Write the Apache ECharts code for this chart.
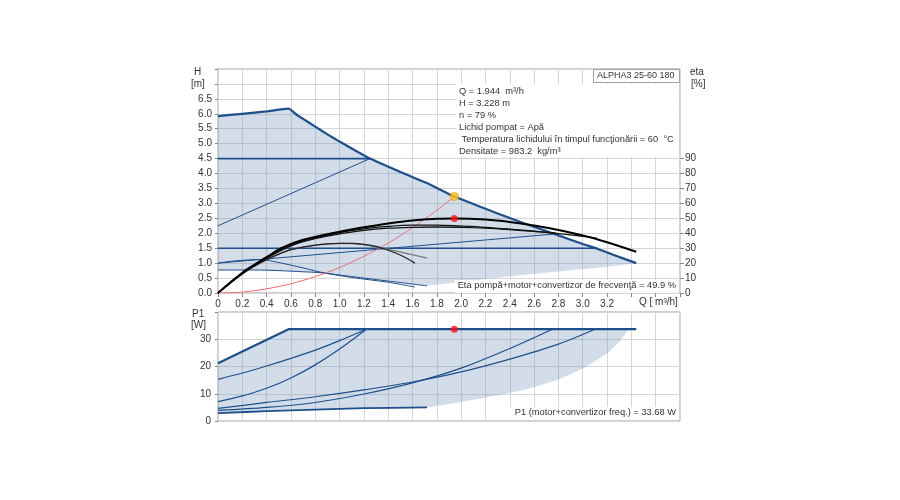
<!DOCTYPE html>
<html><head><meta charset="utf-8">
<script src="https://cdn.jsdelivr.net/npm/echarts@6/dist/echarts.min.js"></script>
<style>html,body{margin:0;padding:0;background:#fff}#c{width:900px;height:500px}</style>
</head><body><div id="c"></div>
<script>
// ---------- tick labels ----------
const qTickLabels = ['0','0.2','0.4','0.6','0.8','1.0','1.2','1.4','1.6','1.8','2.0','2.2','2.4','2.6','2.8','3.0','3.2'];
const hTickLabels = ['0.0','0.5','1.0','1.5','2.0','2.5','3.0','3.5','4.0','4.5','5.0','5.5','6.0','6.5'];
const etaTickLabels = [0,10,20,30,40,50,60,70,80,90];
const p1TickLabels = [0,10,20,30];

// ---------- H(Q) curves [Q m3/h, H m] ----------
const maxCurve = [[0,5.92],[0.2,6.0],[0.4,6.08],[0.58,6.17],[0.65,5.96],[0.7,5.83],[0.8,5.57],[0.9,5.31],[1.0,5.07],[1.1,4.84],[1.25,4.5],[1.5,4.05],[1.75,3.62],[1.944,3.228],[2.2,2.82],[2.4,2.51],[2.61,2.2],[2.8,1.93],[3.0,1.64],[3.12,1.48],[3.25,1.28],[3.44,1.0]];
const cpMax = [[0,4.5],[1.25,4.5]];
const ppMax = [[0,2.25],[1.25,4.5]];
const cpMin = [[0,1.5],[3.12,1.5]];
const ppMin = [[0,1.0],[2.78,1.98]];
const minCurveA = [[0,1.0],[0.15,1.08],[0.35,1.12],[0.5,1.02],[0.7,0.84],[0.84,0.7],[1.1,0.52],[1.4,0.36],[1.62,0.2]];
const minCurveB = [[0,0.77],[0.3,0.77],[0.5,0.75],[0.7,0.71],[0.84,0.68],[1.1,0.55],[1.4,0.4],[1.72,0.24]];
const envLowRight = [[3.44,1.0],[3.2,0.88],[2.8,0.72],[2.4,0.56],[2.0,0.38],[1.72,0.24]];
const systemCurve = [[0,0],[0.2,0.03],[0.4,0.14],[0.6,0.31],[0.8,0.55],[1.0,0.85],[1.2,1.23],[1.4,1.67],[1.6,2.19],[1.8,2.77],[1.944,3.228]];
const dutyPoint = [[1.944,3.228]];

// ---------- eta(Q) curves [Q, %] ----------
const eta1 = [[0,0],[0.1,7],[0.2,13.6],[0.32,20],[0.4,24],[0.52,30],[0.7,35.6],[1.0,41],[1.2,44],[1.4,46.6],[1.6,48.6],[1.8,49.7],[1.944,49.9],[2.2,49.2],[2.4,47.6],[2.6,45.2],[2.8,42.2],[3.0,38.6],[3.2,34],[3.44,27.6]];
const eta2 = [[0,0],[0.1,6.8],[0.2,13.2],[0.32,19.6],[0.52,29],[0.7,34.8],[1.0,40.4],[1.2,43],[1.4,44.6],[1.6,45.4],[1.8,45.4],[2.0,44.8],[2.2,44],[2.4,42.8],[2.6,41.4],[2.78,40]];
const eta3 = [[0,0],[0.1,6.6],[0.2,13],[0.32,19.4],[0.52,28.6],[0.7,34.4],[1.0,39.6],[1.2,42],[1.4,43.4],[1.6,44],[1.8,44.2],[2.0,44],[2.2,43.4],[2.4,42.4],[2.6,41.2],[2.8,39.8],[3.0,38],[3.12,36.6]];
const eta4 = [[0,0],[0.1,6.6],[0.2,12.8],[0.32,19],[0.5,26],[0.6,29],[0.8,32],[1.0,33.2],[1.1,33.2],[1.2,32.6],[1.3,31.2],[1.4,28.6],[1.5,25.4],[1.62,20]];
const eta5 = [[0,0],[0.1,6.6],[0.2,12.8],[0.32,19],[0.5,26],[0.6,29],[0.8,32],[1.0,33.2],[1.2,32.4],[1.4,29.2],[1.6,25.6],[1.72,23.4]];
const etaPoint = [[1.944,49.9]];

// ---------- P1(Q) curves [Q, W] ----------
const p1Max = [[0,21.2],[0.58,33.68],[3.44,33.68]];
const p1CurveA = [[0,15.3],[0.2,17.6],[0.4,20.2],[0.6,23.0],[0.8,26.0],[1.0,29.5],[1.22,33.68]];
const p1CurveB = [[0,7.1],[0.2,9.2],[0.4,12.0],[0.6,15.8],[0.8,20.6],[1.0,26.4],[1.22,33.68]];
const p1CurveC = [[0,3.9],[0.4,5.0],[0.8,6.8],[1.2,9.9],[1.6,14.0],[2.0,19.4],[2.4,26.6],[2.75,33.68]];
const p1CurveD = [[0,4.6],[0.4,6.8],[0.8,8.9],[1.2,11.4],[1.6,14.3],[2.0,18.0],[2.4,22.7],[2.8,28.2],[3.1,33.68]];
const p1MinLine = [[0,2.9],[0.4,3.6],[0.8,4.2],[1.2,4.7],[1.72,5.0]];
const p1EnvUpper = [[0,21.2],[0.58,33.68],[3.38,33.68]];
const p1EnvLower = [[3.38,33.68],[3.3,29],[3.2,24.8],[3.0,19.2],[2.8,15.2],[2.6,12.4],[2.4,10.3],[2.2,8.6],[2.0,7.0],[1.72,5.0],[1.2,4.7],[0.8,4.2],[0.4,3.6],[0,2.9]];
const p1Point = [[1.944,33.68]];

// ---------- texts ----------
const infoLines = ['Q = 1.944  m³/h','H = 3.228 m','n = 79 %','Lichid pompat = Apă',' Temperatura lichidului în timpul funcţionării = 60  °C','Densitate = 983.2  kg/m³'];
const pumpName = 'ALPHA3 25-60 180';
const etaText = 'Eta pompă+motor+convertizor de frecvenţă = 49.9 %';
const p1Text = 'P1 (motor+convertizor freq.) = 33.68 W';

const FONT = '"Liberation Sans", Arial, sans-serif';
const BLUE = '#1d4f8b';
const FILL = 'rgba(120,152,190,0.33)';
const GRIDC = '#d6d6d6';
const TXT = '#333';

function polySeries(upper, lower, xi, yi){
  return {type:'custom', xAxisIndex:xi, yAxisIndex:yi, data:[0], silent:true, z:1,
    renderItem:function(p, api){
      const pts = upper.concat(lower).map(d => api.coord(d));
      return {type:'polygon', shape:{points:pts}, style:{fill:FILL}};
    }};
}
function line(data, xi, yi, color, w, smooth){
  return {type:'line', data:data, xAxisIndex:xi, yAxisIndex:yi, showSymbol:false, symbol:'none',
    smooth: smooth===undefined?0.35:smooth, lineStyle:{color:color, width:w}, z:3, silent:true};
}
const xAxisBase = {type:'value', min:0, max:3.8, interval:0.2,
  axisLine:{show:false}, axisTick:{show:true, length:4, lineStyle:{color:'#888'}},
  splitLine:{show:true, lineStyle:{color:GRIDC}}};

const option = {
  animation:false,
  backgroundColor:'#fff',
  grid:[
    {left:218, top:69, width:462, height:224, show:true, borderColor:'#a0a0a0', borderWidth:1},
    {left:218, top:312, width:462, height:109, show:true, borderColor:'#a0a0a0', borderWidth:1}
  ],
  xAxis:[
    Object.assign({}, xAxisBase, {gridIndex:0, axisLabel:{color:TXT, fontSize:10, fontFamily:FONT, margin:6,
      formatter:function(v){ const i = Math.round(v/0.2); return i < qTickLabels.length ? qTickLabels[i] : ''; }}}),
    Object.assign({}, xAxisBase, {gridIndex:1, axisTick:{show:false}, axisLabel:{show:false}})
  ],
  yAxis:[
    {type:'value', gridIndex:0, min:0, max:7.5, interval:0.5, position:'left',
      axisLine:{show:false}, axisTick:{show:true, length:3, lineStyle:{color:'#888'}},
      splitLine:{show:true, lineStyle:{color:GRIDC}},
      axisLabel:{color:TXT, fontSize:10, fontFamily:FONT, margin:6,
        formatter:function(v){ const i = Math.round(v/0.5); return i < hTickLabels.length ? hTickLabels[i] : ''; }}},
    {type:'value', gridIndex:0, min:0, max:150, interval:10, position:'right',
      axisLine:{show:false}, splitLine:{show:false},
      axisTick:{show:true, length:4, lineStyle:{color:'#888'}, customValues:etaTickLabels},
      axisLabel:{color:TXT, fontSize:10, fontFamily:FONT, margin:5, customValues:etaTickLabels,
        formatter:function(v){ return etaTickLabels.indexOf(v) >= 0 ? String(v) : ''; }}},
    {type:'value', gridIndex:1, min:0, max:40, interval:10, position:'left',
      axisLine:{show:false}, axisTick:{show:true, length:3, lineStyle:{color:'#888'}},
      splitLine:{show:true, lineStyle:{color:GRIDC}},
      axisLabel:{color:TXT, fontSize:10, fontFamily:FONT, margin:7,
        formatter:function(v){ return p1TickLabels.indexOf(v) >= 0 ? String(v) : ''; }}}
  ],
  series:[
    polySeries(maxCurve, envLowRight.concat(minCurveB.slice().reverse()), 0, 0),
    line(cpMax,0,0,BLUE,1.6,false),
    line(ppMax,0,0,BLUE,1,false),
    line(cpMin,0,0,BLUE,1.6,false),
    line(ppMin,0,0,BLUE,1,false),
    line(minCurveA,0,0,BLUE,1,0.3),
    line(minCurveB,0,0,BLUE,1,0.3),
    line(maxCurve,0,0,BLUE,2.2,0.15),
    line(systemCurve,0,0,'#f06a72',1,0.3),
    line(eta5,0,1,'#777',1.2),
    line(eta4,0,1,'#222',1.2),
    line(eta3,0,1,'#111',1.3),
    line(eta2,0,1,'#111',1.3),
    line(eta1,0,1,'#000',2),
    {type:'scatter', data:dutyPoint, xAxisIndex:0, yAxisIndex:0, symbolSize:8, z:5,
      itemStyle:{color:'#ffc61a', borderColor:'#f0a000', borderWidth:1}},
    {type:'scatter', data:etaPoint, xAxisIndex:0, yAxisIndex:1, symbolSize:7, z:5,
      itemStyle:{color:'#ff1010'}},
    polySeries(p1EnvUpper, p1EnvLower, 1, 2),
    line(p1CurveA,1,2,BLUE,1.2,0.3),
    line(p1CurveB,1,2,BLUE,1.2,0.3),
    line(p1CurveC,1,2,BLUE,1.2,0.3),
    line(p1CurveD,1,2,BLUE,1.2,0.3),
    line(p1MinLine,1,2,BLUE,1.8,0.3),
    line(p1Max,1,2,BLUE,2.2,false),
    {type:'scatter', data:p1Point, xAxisIndex:1, yAxisIndex:2, symbolSize:7, z:5,
      itemStyle:{color:'#ff1010'}}
  ],
  graphic:[
    {type:'text', left:194, top:67, style:{text:'H', fill:TXT, font:'10px '+FONT}},
    {type:'text', left:191, top:79, style:{text:'[m]', fill:TXT, font:'10px '+FONT}},
    {type:'text', left:690, top:67, style:{text:'eta', fill:TXT, font:'10px '+FONT}},
    {type:'text', left:691, top:79, style:{text:'[%]', fill:TXT, font:'10px '+FONT}},
    {type:'text', left:192, top:309, style:{text:'P1', fill:TXT, font:'10px '+FONT}},
    {type:'text', left:191, top:320, style:{text:'[W]', fill:TXT, font:'10px '+FONT}},
    {type:'text', left:639, top:297, style:{text:'Q [ m³/h]', fill:TXT, font:'10px '+FONT}},
    {type:'rect', shape:{x:456, y:84, width:223, height:73}, style:{fill:'#fff'}, z:10},
    {type:'rect', shape:{x:593.5, y:69.5, width:86, height:13}, style:{fill:'#fff', stroke:'#a0a0a0', lineWidth:1}, z:11},
    {type:'text', left:597, top:71, z:12, style:{text:pumpName, fill:TXT, font:'9px '+FONT}},
    {type:'group', z:12, children: infoLines.map((t,i)=>({type:'text', x:459, y:87+i*12, z:12, style:{text:t, fill:TXT, font:'9.3px '+FONT}}))},
    {type:'rect', shape:{x:455, y:280, width:224, height:13}, style:{fill:'#fff'}, z:10},
    {type:'text', right:224, top:281, z:12, style:{text:etaText, fill:TXT, font:'9.3px '+FONT}},
    {type:'rect', shape:{x:510, y:407, width:169, height:13}, style:{fill:'#fff'}, z:10},
    {type:'text', right:224, top:408, z:12, style:{text:p1Text, fill:TXT, font:'9.3px '+FONT}}
  ]
};
const chart = echarts.init(document.getElementById('c'), null, {renderer:'canvas'});
chart.setOption(option);
</script>
</body></html>
